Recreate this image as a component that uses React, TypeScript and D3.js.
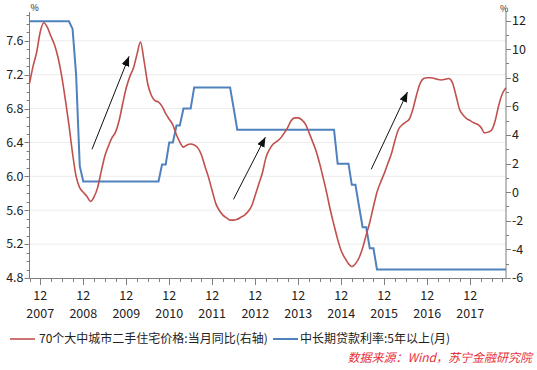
import React, { useEffect, useRef } from "react";
import * as d3 from "d3";

// monthly data, Sep 2007 .. Oct 2018
const firstMonth = new Date(2007, 8, 1);
const lastMonth = new Date(2018, 9, 1);

// 70个大中城市二手住宅价格:当月同比 (%, right axis)
const housePrice = [
  7.6, 8.8, 9.8, 11.2,
  11.85, 11.5, 10.9, 10.3, 9.4, 8.1, 6.5, 4.7, 2.7, 1.1, 0.3, 0.0,
  -0.3, -0.64, -0.35, 0.3, 1.4, 2.5, 3.2, 3.8, 4.2, 5.0, 6.2, 7.3,
  8.1, 8.7, 9.6, 10.5, 9.2, 7.6, 6.8, 6.4, 6.3, 6.0, 5.5, 5.1,
  4.7, 4.0, 3.5, 3.15, 3.3, 3.37, 3.3, 3.1, 2.6, 1.8, 1.0, 0.1,
  -0.8, -1.3, -1.6, -1.8, -1.95, -1.95, -1.9, -1.75, -1.6, -1.35, -0.95, -0.2,
  0.6, 1.4, 2.4, 3.0, 3.35, 3.55, 3.75, 4.1, 4.5, 5.0, 5.2, 5.2,
  5.05, 4.75, 4.2, 3.55, 2.9, 2.0, 1.0, -0.1, -1.3, -2.3, -3.3, -4.1,
  -4.6, -5.0, -5.2, -5.0, -4.6, -3.9, -3.0, -2.1, -1.0, 0.0, 0.7, 1.3,
  2.0, 2.7, 3.6, 4.4, 4.7, 4.9, 5.1, 5.8, 6.8, 7.6, 7.95, 8.0,
  8.0, 7.95, 7.88, 7.85, 7.9, 7.95, 7.7, 6.8, 5.8, 5.4, 5.15, 5.0,
  4.85, 4.75, 4.55, 4.15, 4.2, 4.35, 5.0, 6.1, 6.9, 7.3,
];

// 中长期贷款利率:5年以上 (%, left axis)
const loanRate = [
  7.83, 7.83, 7.83, 7.83,
  7.83, 7.83, 7.83, 7.83, 7.83, 7.83, 7.83, 7.83, 7.74, 7.2, 6.12, 5.94,
  5.94, 5.94, 5.94, 5.94, 5.94, 5.94, 5.94, 5.94, 5.94, 5.94, 5.94, 5.94,
  5.94, 5.94, 5.94, 5.94, 5.94, 5.94, 5.94, 5.94, 5.94, 6.14, 6.14, 6.4,
  6.4, 6.6, 6.6, 6.8, 6.8, 6.8, 7.05, 7.05, 7.05, 7.05, 7.05, 7.05,
  7.05, 7.05, 7.05, 7.05, 7.05, 6.8, 6.55, 6.55, 6.55, 6.55, 6.55, 6.55,
  6.55, 6.55, 6.55, 6.55, 6.55, 6.55, 6.55, 6.55, 6.55, 6.55, 6.55, 6.55,
  6.55, 6.55, 6.55, 6.55, 6.55, 6.55, 6.55, 6.55, 6.55, 6.55, 6.15, 6.15,
  6.15, 6.15, 5.9, 5.9, 5.65, 5.4, 5.4, 5.15, 5.15, 4.9, 4.9, 4.9,
  4.9, 4.9, 4.9, 4.9, 4.9, 4.9, 4.9, 4.9, 4.9, 4.9, 4.9, 4.9,
  4.9, 4.9, 4.9, 4.9, 4.9, 4.9, 4.9, 4.9, 4.9, 4.9, 4.9, 4.9,
  4.9, 4.9, 4.9, 4.9, 4.9, 4.9, 4.9, 4.9, 4.9, 4.9,
];

const leftTicks = [4.8, 5.2, 5.6, 6.0, 6.4, 6.8, 7.2, 7.6];
const rightTicks = [-6, -4, -2, 0, 2, 4, 6, 8, 10, 12];

// trend arrows, on the right axis: [tail date, tail value, tip date, tip value]
const arrows: [string, number, string, number][] = [
  ["2009-02-13", 3.0, "2009-12-25", 9.5],
  ["2012-05-30", -0.5, "2013-02-25", 3.85],
  ["2015-08-13", 1.6, "2016-06-16", 7.0],
];

const redName = "70个大中城市二手住宅价格:当月同比(右轴)";
const blueName = "中长期贷款利率:5年以上(月)";
const source = "数据来源：Wind，苏宁金融研究院";

const RED = "#c0504d";
const BLUE = "#4f81bd";
const FONT = "'Noto Sans CJK SC', 'Noto Sans', sans-serif";

const App = () => {
  const ref = useRef<SVGSVGElement>(null);

  useEffect(() => {
    if (!ref.current) return;
    const svg = d3.select(ref.current);
    svg.selectAll("*").remove();

    const left = 29.5;
    const right = 506;
    const top = 12;
    const bottom = 278;

    const months = housePrice.map((_, i) => d3.timeMonth.offset(firstMonth, i));

    const x = d3.scaleTime().domain([firstMonth, lastMonth]).range([left, right]);
    const yL = d3.scaleLinear().domain([4.8, 7.94]).range([bottom, top]);
    const yR = d3.scaleLinear().domain([-6, 12.6]).range([bottom, top]);

    // gridlines
    svg
      .append("g")
      .selectAll("line")
      .data(leftTicks.slice(1))
      .enter()
      .append("line")
      .attr("x1", left)
      .attr("x2", right)
      .attr("y1", (d) => yL(d))
      .attr("y2", (d) => yL(d))
      .attr("stroke", "#ececec")
      .attr("stroke-width", 1);

    const axisColor = "#7f7f7f";
    const ax = svg.append("g").attr("stroke", axisColor).attr("stroke-width", 1);

    // axis lines
    ax.append("line").attr("x1", left).attr("x2", left).attr("y1", top).attr("y2", bottom);
    ax.append("line").attr("x1", right).attr("x2", right).attr("y1", top).attr("y2", bottom);
    ax.append("line").attr("x1", left).attr("x2", right).attr("y1", bottom + 0.5).attr("y2", bottom + 0.5);

    // left ticks, minor every 0.1
    const leftMinor = d3.range(48, 80).map((v) => v / 10);
    ax.selectAll(".lt")
      .data(leftMinor)
      .enter()
      .append("line")
      .attr("x1", left - 3)
      .attr("x2", left)
      .attr("y1", (d) => Math.round(yL(d)) + 0.5)
      .attr("y2", (d) => Math.round(yL(d)) + 0.5);
    ax.selectAll(".ltm")
      .data(leftTicks)
      .enter()
      .append("line")
      .attr("x1", left - 5)
      .attr("x2", left)
      .attr("y1", (d) => Math.round(yL(d)) + 0.5)
      .attr("y2", (d) => Math.round(yL(d)) + 0.5);

    // right ticks, minor every 1
    const rightMinor = d3.range(-6, 13);
    ax.selectAll(".rt")
      .data(rightMinor)
      .enter()
      .append("line")
      .attr("x1", right)
      .attr("x2", right + 3)
      .attr("y1", (d) => Math.round(yR(d)) + 0.5)
      .attr("y2", (d) => Math.round(yR(d)) + 0.5);
    ax.selectAll(".rtm")
      .data(rightTicks)
      .enter()
      .append("line")
      .attr("x1", right)
      .attr("x2", right + 5)
      .attr("y1", (d) => Math.round(yR(d)) + 0.5)
      .attr("y2", (d) => Math.round(yR(d)) + 0.5);

    // bottom ticks: quarterly minor, December major
    const quarters = d3.timeMonths(firstMonth, d3.timeMonth.offset(lastMonth, 1)).filter((d) => d.getMonth() % 3 === 2);
    const decembers = quarters.filter((d) => d.getMonth() === 11 && d.getFullYear() <= 2017);
    ax.selectAll(".bt")
      .data(quarters)
      .enter()
      .append("line")
      .attr("x1", (d) => Math.round(x(d)) + 0.5)
      .attr("x2", (d) => Math.round(x(d)) + 0.5)
      .attr("y1", bottom)
      .attr("y2", bottom + 4);
    ax.selectAll(".btm")
      .data(decembers)
      .enter()
      .append("line")
      .attr("x1", (d) => Math.round(x(d)) + 0.5)
      .attr("x2", (d) => Math.round(x(d)) + 0.5)
      .attr("y1", bottom)
      .attr("y2", bottom + 7);

    const txt = svg.append("g").attr("font-family", FONT).attr("fill", "#222").attr("font-size", 12.5);

    txt.selectAll(".ll")
      .data(leftTicks)
      .enter()
      .append("text")
      .attr("x", left - 6)
      .attr("y", (d) => yL(d))
      .attr("dy", "0.35em")
      .attr("text-anchor", "end")
      .text((d) => d3.format(".1f")(d));

    txt.selectAll(".rl")
      .data(rightTicks)
      .enter()
      .append("text")
      .attr("x", right + 6)
      .attr("y", (d) => yR(d))
      .attr("dy", "0.35em")
      .text((d) => String(d));

    txt.selectAll(".bm")
      .data(decembers)
      .enter()
      .append("text")
      .attr("x", (d) => x(d))
      .attr("y", 300)
      .attr("text-anchor", "middle")
      .text((d) => d3.timeFormat("%m")(d));
    txt.selectAll(".by")
      .data(decembers)
      .enter()
      .append("text")
      .attr("x", (d) => x(d))
      .attr("y", 318)
      .attr("text-anchor", "middle")
      .text((d) => d3.timeFormat("%Y")(d));

    txt.append("text").attr("x", left + 1).attr("y", 11).attr("font-size", 9).text("%");
    txt.append("text").attr("x", right - 6).attr("y", 12).attr("font-size", 9).text("%");

    // series
    const blueLine = d3
      .line<number>()
      .x((_, i) => x(months[i]))
      .y((d) => yL(d));
    svg
      .append("path")
      .attr("d", blueLine(loanRate))
      .attr("fill", "none")
      .attr("stroke", BLUE)
      .attr("stroke-width", 2);

    const redLine = d3
      .line<number>()
      .x((_, i) => x(months[i]))
      .y((d) => yR(d))
      .curve(d3.curveMonotoneX);
    svg
      .append("path")
      .attr("d", redLine(housePrice))
      .attr("fill", "none")
      .attr("stroke", RED)
      .attr("stroke-width", 1.6);

    // arrows
    svg
      .append("defs")
      .append("marker")
      .attr("id", "head")
      .attr("markerUnits", "userSpaceOnUse")
      .attr("markerWidth", 12)
      .attr("markerHeight", 10)
      .attr("refX", 10)
      .attr("refY", 4)
      .attr("orient", "auto")
      .append("path")
      .attr("d", "M0,0 L10,4 L0,8 Z")
      .attr("fill", "#111");

    const parse = d3.timeParse("%Y-%m-%d");
    svg
      .append("g")
      .selectAll("line")
      .data(arrows)
      .enter()
      .append("line")
      .attr("x1", (d) => x(parse(d[0])!))
      .attr("y1", (d) => yR(d[1]))
      .attr("x2", (d) => x(parse(d[2])!))
      .attr("y2", (d) => yR(d[3]))
      .attr("stroke", "#111")
      .attr("stroke-width", 1)
      .attr("marker-end", "url(#head)");

    // legend
    const lg = svg.append("g").attr("font-family", FONT).attr("font-size", 12).attr("fill", "#222");
    lg.append("line").attr("x1", 10).attr("x2", 35).attr("y1", 339).attr("y2", 339).attr("stroke", RED).attr("stroke-width", 1.6);
    lg.append("text").attr("x", 39).attr("y", 339).attr("dy", "0.35em").text(redName);
    lg.append("line").attr("x1", 273).attr("x2", 298).attr("y1", 339).attr("y2", 339).attr("stroke", BLUE).attr("stroke-width", 2);
    lg.append("text").attr("x", 300).attr("y", 339).attr("dy", "0.35em").text(blueName);

    svg
      .append("text")
      .attr("x", 532)
      .attr("y", 358)
      .attr("dy", "0.35em")
      .attr("text-anchor", "end")
      .attr("font-family", FONT)
      .attr("font-size", 12)
      .attr("font-style", "italic")
      .attr("fill", "#e8313c")
      .text(source);
  }, []);

  return (
    <svg
      ref={ref}
      width={537}
      height={370}
      style={{ position: "absolute", left: 0, top: 0, background: "#fff" }}
    />
  );
};

export default App;
